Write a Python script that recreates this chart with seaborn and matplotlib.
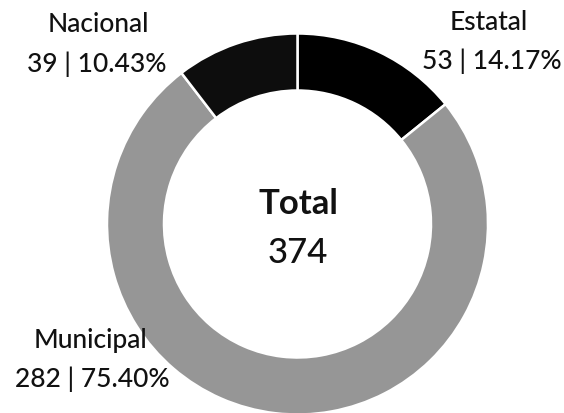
import matplotlib
matplotlib.use("Agg")
import matplotlib.pyplot as plt
import seaborn as sns

# Data
categories = ["Estatal", "Municipal", "Nacional"]
values = [53, 282, 39]
percents = ["14.17%", "75.40%", "10.43%"]
total_label = "Total"
total_value = 374
colors = ["#000000", "#969696", "#0d0d0d"]

sns.set_theme(style="white")
plt.rcParams["font.family"] = ["Lato", "DejaVu Sans"]

W, H = 564, 414
fig = plt.figure(figsize=(W / 100, H / 100), dpi=100)
ax = fig.add_axes([0, 0, 1, 1])

cx, cy, R = 297.5, 225, 190.5
ax.pie(values, colors=colors, startangle=90, counterclock=False,
       center=(cx, H - cy), radius=R,
       wedgeprops=dict(width=57, edgecolor="white", linewidth=1.8))
ax.set_xlim(0, W)
ax.set_ylim(0, H)
ax.set_aspect("equal")
ax.axis("off")

def put(x, ybase, s, **kw):
    kw.setdefault("fontweight", "medium")
    ax.text(x, H - ybase, s, ha="center", va="baseline", color="#111111", **kw)

lab_fs = 19
# Nacional (top-left)
put(98, 32, categories[2], fontsize=lab_fs)
put(97, 72, f"{values[2]} | {percents[2]}", fontsize=lab_fs)
# Estatal (top-right)
put(489, 30, categories[0], fontsize=lab_fs)
put(492, 69, f"{values[0]} | {percents[0]}", fontsize=lab_fs)
# Municipal (bottom-left)
put(90, 348, categories[1], fontsize=lab_fs)
put(92, 387, f"{values[1]} | {percents[1]}", fontsize=lab_fs)
# Center
put(298, 214, total_label, fontsize=25, fontweight="bold")
put(298, 263, str(total_value), fontsize=25)

fig.savefig("out.png", dpi=100, facecolor="white")
